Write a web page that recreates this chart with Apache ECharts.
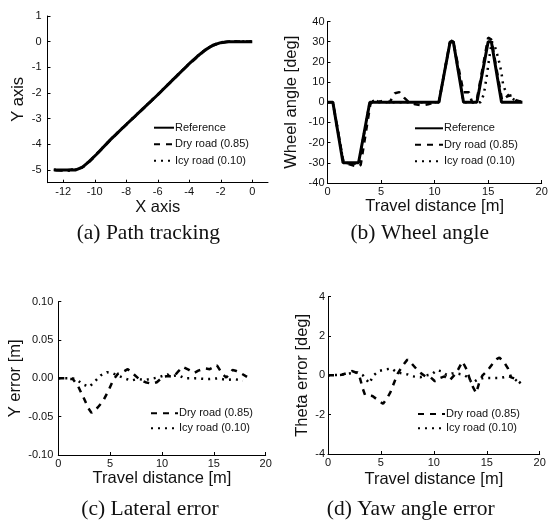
<!DOCTYPE html>
<html>
<head>
<meta charset="utf-8">
<script src="https://cdn.jsdelivr.net/npm/echarts@6/dist/echarts.min.js"></script>
<style>
html,body{margin:0;padding:0;background:#fff;}
#c{width:559px;height:527px;}
</style>
</head>
<body>
<div id="c"></div>
<script>
// ---- (a) Path tracking: [x, y]
const aRef = [[-12.6,-5],[-11.2,-5],[-10.8,-4.9],[-10.4,-4.7],[-9.9,-4.4],[-9,-3.82],[-8,-3.23],[-7,-2.65],[-6,-2.07],[-5,-1.46],[-4,-0.86],[-3.5,-0.58],[-3,-0.33],[-2.5,-0.14],[-2,-0.04],[-1.5,0],[0,0]];
const aDry = [[-12.5,-5.01],[-12,-5.03],[-11.5,-4.99],[-11.1,-4.97],[-10.7,-4.87],[-10.3,-4.66],[-9.9,-4.41],[-9,-3.83],[-8,-3.24],[-7,-2.66],[-6,-2.07],[-5,-1.47],[-4,-0.87],[-3,-0.34],[-2.5,-0.15],[-2,-0.04],[-1.5,0.01],[0,0]];
const aIcy = [[-12.6,-4.99],[-12.2,-5.02],[-11.6,-5.03],[-11.2,-4.98],[-10.8,-4.9],[-10.4,-4.69],[-9.9,-4.39],[-9,-3.81],[-8,-3.22],[-7,-2.64],[-6,-2.06],[-5,-1.45],[-4,-0.85],[-3,-0.32],[-2.5,-0.13],[-2,-0.03],[-1.5,0.01],[0,0.01]];
const aXTicks = [-12,-10,-8,-6,-4,-2,0];
const aYTicks = [1,0,-1,-2,-3,-4,-5];

// ---- (b) Wheel angle: [distance, deg]
const bRef = [[0,0],[0.5,0],[1.45,-30],[2.9,-30],[3.95,0],[10.4,0],[11.45,30],[11.75,30],[12.7,0],[13.95,0],[15.0,30],[15.3,30],[16.25,0],[18.2,0]];
const bDry = [[0,0],[0.5,0],[1.5,-30],[2.2,-31],[2.9,-32],[3.1,-31],[4.0,-1],[4.4,1.5],[4.8,0],[5.3,1],[5.8,0],[6.3,4.5],[6.7,5],[7.2,2],[7.6,0],[8.2,-1],[8.8,-1.5],[9.4,-1],[10.0,0],[10.4,0],[11.4,29],[11.7,31],[12.7,5],[13.2,5],[13.5,0],[13.9,0],[15.0,32],[15.3,31],[16.3,1],[16.8,3],[17.2,3.5],[17.6,1],[18.2,0]];
const bIcy = [[0,0],[0.5,0],[1.5,-30],[2.9,-30.5],[3.95,0],[4.5,1],[5,0],[10.4,0],[11.45,30],[11.75,30.5],[12.7,0],[14.3,0],[14.6,4],[14.9,14],[15.1,22],[15.35,30],[15.64,27.5],[15.86,23.4],[16.1,18.5],[16.27,13.5],[16.4,8.6],[16.7,4.4],[17.0,2.8],[17.5,1],[18.2,0]];

// ---- (c) Lateral error: [distance, m]
const cDry = [[0,0],[0.6,0],[1.4,-0.001],[1.9,-0.01],[2.5,-0.027],[2.9,-0.039],[3.2,-0.045],[3.8,-0.038],[4.3,-0.03],[4.8,-0.017],[5.3,-0.002],[5.75,0.006],[6.2,0.008],[6.7,0.012],[7.3,0.005],[7.8,-0.001],[8.4,-0.005],[9.0,-0.007],[9.5,-0.005],[10.1,0.002],[10.6,0.003],[11.1,0.002],[11.5,0.008],[12.0,0.015],[12.6,0.011],[13.1,0.007],[13.5,0.01],[14.1,0.013],[14.6,0.012],[15.3,0.017],[15.8,0.006],[16.2,0.001],[16.8,0.011],[17.1,0.01],[17.7,0.006],[18.2,0.002]];
const cIcy = [[0,0],[1.4,0],[1.9,-0.003],[2.4,-0.008],[3.0,-0.011],[3.6,-0.003],[4.1,0.004],[4.7,0.008],[5.2,0.007],[5.7,0.004],[6.4,0.0],[7.0,-0.003],[7.6,-0.001],[8.4,-0.002],[9.2,0.0],[9.8,0.002],[10.5,0.005],[11.0,0.003],[11.6,0.004],[12.2,0.0],[13.2,0.0],[14.5,-0.001],[15.4,0.0],[16.2,-0.002],[17.0,-0.001],[17.8,-0.003]];

// ---- (d) Yaw angle error: [distance, deg]
const dDry = [[0,0],[0.7,0],[1.3,0.03],[1.7,0.1],[2.3,0.22],[2.9,0.08],[3.1,-0.3],[3.3,-0.7],[3.5,-1.0],[4.2,-1.05],[4.7,-1.25],[5.2,-1.45],[5.6,-1.15],[5.9,-0.85],[6.3,-0.3],[6.6,0.1],[7.0,0.45],[7.5,0.8],[7.9,0.6],[8.4,0.3],[8.8,0.1],[9.2,-0.05],[9.7,-0.1],[10.1,-0.3],[10.5,-0.15],[11.0,-0.05],[11.5,-0.25],[12.0,0.05],[12.3,0.3],[12.7,0.7],[13.1,0.3],[13.4,-0.2],[13.7,-0.6],[14.0,-0.9],[14.3,-0.35],[14.6,0],[15.0,0.2],[15.5,0.55],[16.0,0.85],[16.2,0.9],[16.6,0.7],[17.0,0.35],[17.3,-0.1],[17.8,-0.2],[18.2,-0.4]];
const dIcy = [[0,0],[1.0,0.02],[2.0,0.1],[2.8,0.15],[3.3,0.0],[3.9,-0.4],[4.3,0.0],[4.8,0.22],[5.4,0.3],[6.0,0.35],[6.5,0.15],[7.0,0.1],[7.5,0.05],[8.0,-0.05],[8.7,-0.1],[9.3,0.0],[9.8,0.05],[10.3,0.27],[10.75,0.2],[11.2,0.03],[11.7,0.1],[12.3,0.08],[12.8,0.03],[13.3,-0.13],[13.6,-0.4],[14.1,-0.22],[14.7,-0.13],[15.5,-0.13],[16.3,-0.13],[17.1,-0.05],[17.5,-0.13],[18.1,-0.4]];

const NAME_REF = 'Reference', NAME_DRY = 'Dry road (0.85)', NAME_ICY = 'Icy road (0.10)';
const captions = ['(a) Path tracking','(b) Wheel angle','(c) Lateral error','(d) Yaw angle error'];

const SANS = 'Liberation Sans, Arial, sans-serif';
const SERIF = 'Liberation Serif, Times New Roman, serif';

function baseAx(grid, min, max, name, nameGap, extra) {
  return Object.assign({
    type: 'value', gridIndex: grid, min: min, max: max,
    name: name, nameLocation: 'middle', nameGap: nameGap,
    nameTextStyle: {fontFamily: SANS, fontSize: 16.5, color: '#111'},
    axisLine: {show: true, onZero: false, lineStyle: {color: '#000', width: 1}},
    axisTick: {show: true, inside: true, length: 3, lineStyle: {color: '#000'}},
    axisLabel: {fontFamily: SANS, fontSize: 11, color: '#111', margin: 3},
    splitLine: {show: false}
  }, extra || {});
}

const styleRef = {color: '#000', width: 3, type: 'solid'};
const styleDry = {color: '#000', width: 2.5, type: [6, 6]};
const styleIcy = {color: '#000', width: 2.5, type: [2, 5]};

function ser(name, grid, data, ls, z) {
  return {name: name, type: 'line', xAxisIndex: grid, yAxisIndex: grid, data: data,
    symbol: 'none', lineStyle: ls, itemStyle: {color: '#000'}, z: z || 2, animation: false};
}

function leg(left, top, names, w, gap) {
  return {left: left, top: top, orient: 'vertical', data: names, padding: 0,
    itemWidth: w, itemHeight: 12, itemGap: gap, selectedMode: false,
    itemStyle: {opacity: 0},
    textStyle: {fontFamily: SANS, fontSize: 11, color: '#111', lineHeight: 12, padding: [0, 0, 0, -4]}};
}

const chart = echarts.init(document.getElementById('c'));
chart.setOption({
  backgroundColor: '#fff',
  animation: false,
  grid: [
    {left: 47.5, top: 16, width: 220.5, height: 166.7},
    {left: 327.5, top: 21.5, width: 214.2, height: 161.5},
    {left: 58.3, top: 301.7, width: 207.4, height: 153.3},
    {left: 328, top: 296.7, width: 211.7, height: 157.3}
  ],
  xAxis: [
    baseAx(0, -13, 1, 'X axis', 15, {
      axisLabel: {fontFamily: SANS, fontSize: 11, color: '#111', margin: 4, customValues: aXTicks},
      axisTick: {show: true, inside: true, length: 3, lineStyle: {color: '#000'}, customValues: aXTicks}
    }),
    baseAx(1, 0, 20, 'Travel distance [m]', 14, {interval: 5}),
    baseAx(2, 0, 20, 'Travel distance [m]', 10, {interval: 5}),
    baseAx(3, 0, 20, 'Travel distance [m]', 17, {interval: 5})
  ],
  yAxis: [
    baseAx(0, -5.5, 1, 'Y axis', 21, {
      axisLabel: {fontFamily: SANS, fontSize: 11, color: '#111', margin: 6, customValues: aYTicks},
      axisTick: {show: true, inside: true, length: 3, lineStyle: {color: '#000'}, customValues: aYTicks}
    }),
    baseAx(1, -40, 40, 'Wheel angle [deg]', 28, {interval: 10}),
    baseAx(2, -0.1, 0.1, 'Y error [m]', 24, {interval: 0.05,
      axisLabel: {fontFamily: SANS, fontSize: 11, color: '#111', margin: 5, formatter: v => v.toFixed(2)}}),
    baseAx(3, -4, 4, 'Theta error [deg]', 17.5, {interval: 2})
  ],
  legend: [
    leg(153, 121.7, [NAME_REF, NAME_DRY, NAME_ICY], 20, 4.5),
    leg(414, 122.3, [NAME_REF, NAME_DRY, NAME_ICY], 28, 4.5),
    leg(150, 407.3, [NAME_DRY, NAME_ICY], 27, 3),
    leg(417, 408, [NAME_DRY, NAME_ICY], 27, 2.3)
  ],
  series: [
    ser(NAME_REF, 0, aRef, styleRef, 3),
    ser(NAME_DRY, 0, aDry, styleDry, 2),
    ser(NAME_ICY, 0, aIcy, styleIcy, 2),
    ser(NAME_REF, 1, bRef, styleRef, 3),
    ser(NAME_DRY, 1, bDry, styleDry, 2),
    ser(NAME_ICY, 1, bIcy, styleIcy, 2),
    ser(NAME_DRY, 2, cDry, styleDry, 2),
    ser(NAME_ICY, 2, cIcy, styleIcy, 2),
    ser(NAME_DRY, 3, dDry, styleDry, 2),
    ser(NAME_ICY, 3, dIcy, styleIcy, 2)
  ],
  graphic: [
    {type: 'text', x: 148.3, y: 233, style: {text: captions[0], font: '21.5px ' + SERIF, fill: '#111', align: 'center', verticalAlign: 'middle'}},
    {type: 'text', x: 419.7, y: 233, style: {text: captions[1], font: '21.5px ' + SERIF, fill: '#111', align: 'center', verticalAlign: 'middle'}},
    {type: 'text', x: 150, y: 509, style: {text: captions[2], font: '21.5px ' + SERIF, fill: '#111', align: 'center', verticalAlign: 'middle'}},
    {type: 'text', x: 410.7, y: 509, style: {text: captions[3], font: '21.5px ' + SERIF, fill: '#111', align: 'center', verticalAlign: 'middle'}}
  ]
});
</script>
</body>
</html>
